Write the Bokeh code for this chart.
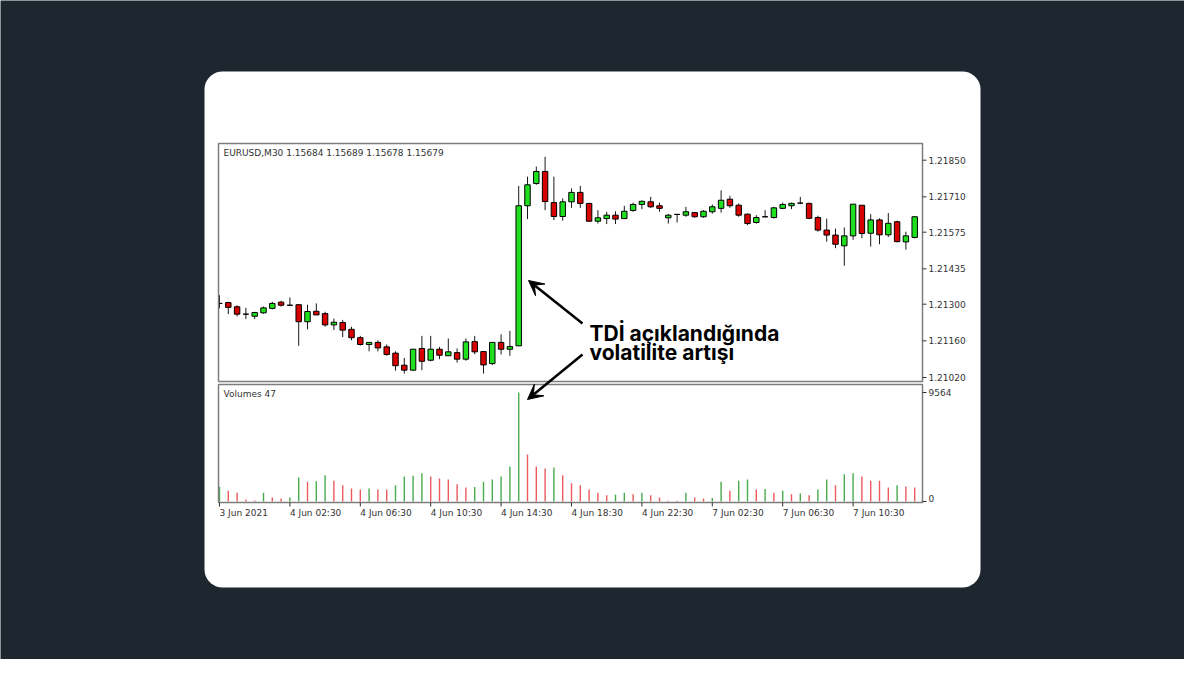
import numpy as np
from bokeh.plotting import figure
from bokeh.models import Range1d, Arrow, VeeHead, ColumnDataSource
from bokeh.core.properties import value
from bokeh.embed import file_html
from bokeh.resources import INLINE

# ---------------- data ----------------
open_ = [1.21303, 1.21306, 1.21290, 1.21262, 1.21254, 1.21267, 1.21284, 1.21308, 1.21296, 1.21298,
         1.21233, 1.21273, 1.21264, 1.21221, 1.21230, 1.21204, 1.21172, 1.21146, 1.21154, 1.21137,
         1.21113, 1.21067, 1.21048, 1.21131, 1.21086, 1.21128, 1.21103, 1.21115, 1.21090, 1.21157,
         1.21119, 1.21073, 1.21154, 1.21128, 1.21141, 1.21676, 1.21761, 1.21807, 1.21688, 1.21635,
         1.21691, 1.21727, 1.21685, 1.21617, 1.21627, 1.21640, 1.21627, 1.21658, 1.21681, 1.21691,
         1.21676, 1.21630, 1.21643, 1.21640, 1.21650, 1.21634, 1.21653, 1.21666, 1.21701, 1.21678,
         1.21644, 1.21612, 1.21634, 1.21631, 1.21666, 1.21676, 1.21686, 1.21685, 1.21631, 1.21583,
         1.21564, 1.21523, 1.21561, 1.21678, 1.21571, 1.21622, 1.21565, 1.21615, 1.21538, 1.21555]
high = [1.21334, 1.21309, 1.21296, 1.21286, 1.21271, 1.21291, 1.21309, 1.21313, 1.21326, 1.21299,
        1.21298, 1.21303, 1.21271, 1.21245, 1.21240, 1.21214, 1.21179, 1.21154, 1.21162, 1.21146,
        1.21120, 1.21095, 1.21128, 1.21179, 1.21179, 1.21137, 1.21169, 1.21131, 1.21169, 1.21179,
        1.21119, 1.21156, 1.21185, 1.21198, 1.21752, 1.21787, 1.21826, 1.21863, 1.21787, 1.21704,
        1.21742, 1.21752, 1.21687, 1.21659, 1.21653, 1.21655, 1.21676, 1.21688, 1.21696, 1.21710,
        1.21688, 1.21645, 1.21643, 1.21672, 1.21650, 1.21659, 1.21681, 1.21735, 1.21714, 1.21685,
        1.21646, 1.21640, 1.21659, 1.21672, 1.21688, 1.21688, 1.21710, 1.21688, 1.21638, 1.21627,
        1.21589, 1.21593, 1.21682, 1.21678, 1.21644, 1.21628, 1.21648, 1.21619, 1.21577, 1.21634]
low = [1.21284, 1.21262, 1.21253, 1.21243, 1.21243, 1.21264, 1.21280, 1.21291, 1.21294, 1.21141,
       1.21204, 1.21259, 1.21214, 1.21201, 1.21174, 1.21162, 1.21142, 1.21120, 1.21120, 1.21103,
       1.21046, 1.21035, 1.21046, 1.21048, 1.21082, 1.21090, 1.21103, 1.21077, 1.21084, 1.21109,
       1.21035, 1.21067, 1.21108, 1.21103, 1.21141, 1.21625, 1.21756, 1.21659, 1.21621, 1.21619,
       1.21668, 1.21668, 1.21615, 1.21608, 1.21606, 1.21606, 1.21625, 1.21653, 1.21663, 1.21668,
       1.21653, 1.21608, 1.21612, 1.21634, 1.21630, 1.21630, 1.21646, 1.21650, 1.21668, 1.21634,
       1.21602, 1.21608, 1.21631, 1.21627, 1.21663, 1.21663, 1.21682, 1.21625, 1.21577, 1.21539,
       1.21514, 1.21447, 1.21546, 1.21552, 1.21520, 1.21529, 1.21557, 1.21536, 1.21508, 1.21551]
close = [1.21303, 1.21288, 1.21262, 1.21262, 1.21268, 1.21286, 1.21303, 1.21296, 1.21296, 1.21233,
         1.21272, 1.21259, 1.21221, 1.21231, 1.21201, 1.21172, 1.21146, 1.21154, 1.21133, 1.21108,
         1.21065, 1.21048, 1.21128, 1.21082, 1.21128, 1.21105, 1.21118, 1.21090, 1.21156, 1.21118,
         1.21068, 1.21154, 1.21128, 1.21138, 1.21676, 1.21756, 1.21807, 1.21692, 1.21635, 1.21691,
         1.21727, 1.21685, 1.21617, 1.21630, 1.21640, 1.21625, 1.21655, 1.21681, 1.21693, 1.21672,
         1.21666, 1.21640, 1.21643, 1.21653, 1.21634, 1.21655, 1.21672, 1.21697, 1.21676, 1.21640,
         1.21608, 1.21631, 1.21634, 1.21668, 1.21681, 1.21685, 1.21686, 1.21628, 1.21583, 1.21564,
         1.21529, 1.21561, 1.21682, 1.21570, 1.21622, 1.21565, 1.21609, 1.21539, 1.21561, 1.21634]
volume = [1300, 940, 760, 180, 90, 760, 350, 260, 350, 2100,
          1730, 1780, 2310, 1820, 1430, 1140, 1050, 1140, 1050, 1050,
          1430, 2190, 2250, 2480, 2190, 2020, 1930, 1520, 1230, 1280,
          1730, 1930, 2190, 3070, 9564, 4120, 3070, 2900, 2980, 2310,
          1600, 1430, 1050, 760, 550, 600, 760, 640, 760, 550,
          350, 60, 60, 760, 350, 260, 300, 1730, 940, 1820,
          1930, 1050, 1100, 760, 940, 640, 700, 550, 1050, 1930,
          1430, 2400, 2480, 2190, 1820, 1820, 1230, 1430, 1320, 1230]

price_ticks = [1.21850, 1.21710, 1.21575, 1.21435, 1.21300, 1.21160, 1.21020]
price_tick_labels = ["1.21850", "1.21710", "1.21575", "1.21435", "1.21300", "1.21160", "1.21020"]
vol_max_tick = 9564
time_tick_idx = [0, 8, 16, 24, 32, 40, 48, 56, 64, 72]
time_tick_labels = ["3 Jun 2021", "4 Jun 02:30", "4 Jun 06:30", "4 Jun 10:30", "4 Jun 14:30",
                    "4 Jun 18:30", "4 Jun 22:30", "7 Jun 02:30", "7 Jun 06:30", "7 Jun 10:30"]
header_text = "EURUSD,M30  1.15684 1.15689 1.15678 1.15679"
volume_header = "Volumes 47"
annotation_lines = ["TDİ açıklandığında", "volatilite artışı"]

# ---------------- layout & style ----------------
M = 8
FIG_W, FIG_H = 1184, 659
BG = "#1e2630"
CARD_L, CARD_T, CARD_R, CARD_B, CARD_RAD = 212, 79, 988, 595, 18
MAIN_L, MAIN_T, MAIN_R, MAIN_B = 226, 151, 930, 389
VOL_T, VOL_B = 392, 510
BAR0_X, BAR_DX = 227.0, 8.8
PY_HI, PY_LO = 167.7, 385.0     # pixel rows of first / last price tick
VOL0_Y, VOLMAX_Y = 509.0, 400.0
GREEN, RED = "#1ee01e", "#d80000"
VGREEN, VRED = "#4aab4a", "#ea5a5f"
FRAME = "#7d7d7d"
AXC = "#333333"
FONT = "DejaVu Sans"

X0, X1 = M, M + FIG_W
Y0, Y1 = M, M + FIG_H
p = figure(width=FIG_W, height=FIG_H, x_range=Range1d(X0, X1), y_range=Range1d(Y1, Y0),
           output_backend="svg", toolbar_location=None, min_border=0,
           x_axis_location=None, y_axis_location=None)
p.grid.visible = False
p.outline_line_color = None
p.background_fill_color = BG
p.border_fill_color = BG

# extra ranges mapping data to the window pixel layout
p.extra_x_ranges = {"bar": Range1d((X0 - BAR0_X) / BAR_DX, (X1 - BAR0_X) / BAR_DX)}
kp = (price_ticks[0] - price_ticks[-1]) / (PY_LO - PY_HI)
kv = vol_max_tick / (VOL0_Y - VOLMAX_Y)
p.extra_y_ranges = {
    "price": Range1d(price_ticks[0] - (Y1 - PY_HI) * kp, price_ticks[0] + (PY_HI - Y0) * kp),
    "vol": Range1d(-(Y1 - VOL0_Y) * kv, (VOL0_Y - Y0) * kv),
}

# card with rounded corners
def rounded_rect(l, t, r, b, rad, n=10):
    xs, ys = [], []
    for cx, cy, a0 in [(r - rad, t + rad, -np.pi / 2), (r - rad, b - rad, 0.0),
                       (l + rad, b - rad, np.pi / 2), (l + rad, t + rad, np.pi)]:
        a = np.linspace(a0, a0 + np.pi / 2, n)
        xs.extend(cx + rad * np.cos(a))
        ys.extend(cy + rad * np.sin(a))
    return xs, ys

cx, cy = rounded_rect(CARD_L, CARD_T, CARD_R, CARD_B, CARD_RAD)
p.patch(cx, cy, fill_color="white", line_color=None)

# candles
idx = np.arange(len(open_))
o = np.array(open_)
c = np.array(close)
body_color = np.where(c > o, GREEN, np.where(c < o, RED, "black"))
src = ColumnDataSource(dict(x=idx, h=high, l=low, top=np.maximum(o, c), bottom=np.minimum(o, c),
                            color=body_color))
p.segment(x0="x", y0="h", x1="x", y1="l", source=src, line_color="#1a1a1a", line_width=1,
          x_range_name="bar", y_range_name="price")
p.vbar(x="x", top="top", bottom="bottom", width=0.62, source=src, fill_color="color",
       line_color="black", line_width=1, x_range_name="bar", y_range_name="price")

# volumes
v = np.array(volume)
vcol = [VGREEN if i == 0 or v[i] > v[i - 1] else VRED for i in range(len(v))]
p.segment(x0=idx, y0=0, x1=idx, y1=v, line_color=vcol, line_width=1.4,
          x_range_name="bar", y_range_name="vol")

# hide the part of the first candle outside the window frame
p.quad(left=CARD_L + 2, right=MAIN_L, top=MAIN_T, bottom=MAIN_B, fill_color="white", line_color=None)

# panel frames
p.quad(left=[MAIN_L, MAIN_L], right=[MAIN_R, MAIN_R], top=[MAIN_T, VOL_T], bottom=[MAIN_B, VOL_B],
       fill_color=None, line_color=FRAME, line_width=1.5)

# price axis
p.segment(x0=MAIN_R, x1=MAIN_R + 4, y0=price_ticks, y1=price_ticks, line_color=AXC,
          line_width=1, y_range_name="price")
p.text(x=MAIN_R + 6, y=price_ticks, text=price_tick_labels, y_range_name="price",
       text_baseline="middle", text_align="left", text_font=value(FONT),
       text_font_size="9px", text_color=AXC)

# volume axis
p.segment(x0=MAIN_R, x1=MAIN_R + 4, y0=[vol_max_tick, 0], y1=[vol_max_tick, 0], line_color=AXC,
          line_width=1, y_range_name="vol")
p.text(x=[MAIN_R + 6], y=[vol_max_tick], text=[str(vol_max_tick)], y_range_name="vol",
       text_baseline="middle", text_align="left", text_font=value(FONT),
       text_font_size="9px", text_color=AXC)
p.text(x=[MAIN_R + 6], y=[0], text=["0"], y_range_name="vol",
       text_baseline="bottom", text_align="left", text_font=value(FONT),
       text_font_size="9px", text_color=AXC)

# time axis
p.segment(x0=time_tick_idx, x1=time_tick_idx, y0=VOL_B, y1=VOL_B + 4, line_color=AXC,
          line_width=1, x_range_name="bar")
p.text(x=time_tick_idx, y=VOL_B + 10, text=time_tick_labels, x_range_name="bar",
       text_baseline="middle", text_align="left", text_font=value(FONT),
       text_font_size="9px", text_color=AXC)

# panel headers
p.text(x=[MAIN_L + 5, MAIN_L + 5], y=[MAIN_T + 9, VOL_T + 9], text=[header_text, volume_header],
       text_baseline="middle", text_align="left", text_font=value(FONT),
       text_font_size="9px", text_color=AXC)

# annotation
p.text(x=[597, 597], y=[341, 360], text=annotation_lines, text_baseline="alphabetic",
       text_align="left", text_font=value("Inter"), text_font_style="bold",
       text_font_size="21px", text_color="black")
for xs, ys, xe, ye in [(590, 331, 536, 288), (590, 362, 535, 407)]:
    p.add_layout(Arrow(end=VeeHead(size=15, fill_color="black", line_color="black", line_width=1),
                       x_start=xs, y_start=ys, x_end=xe, y_end=ye,
                       line_color="black", line_width=2.5))

open("out.html", "w").write(file_html(p, INLINE))
